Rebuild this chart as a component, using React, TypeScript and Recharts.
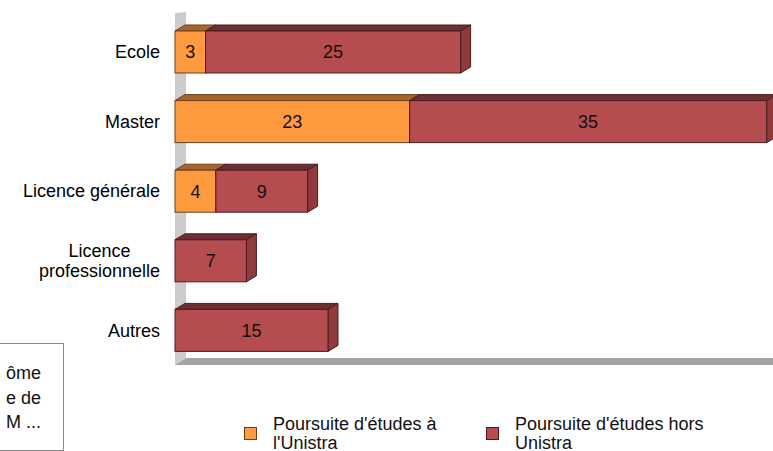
import React from 'react';
import { BarChart, Bar, XAxis, YAxis, LabelList, ReferenceArea } from 'recharts';

const categories = ['Ecole', 'Master', 'Licence générale', 'Licence professionnelle', 'Autres'];
const tickLines = [['Ecole'], ['Master'], ['Licence générale'], ['Licence', 'professionnelle'], ['Autres']];
const unistra = [3, 23, 4, 0, 0];
const horsUnistra = [25, 35, 9, 7, 15];
const seriesNames = ["Poursuite d'études à l'Unistra", "Poursuite d'études hors Unistra"];
const legendLines = [["Poursuite d'études à", "l'Unistra"], ["Poursuite d'études hors", 'Unistra']];
const boxLines = ['ôme', 'e de', 'M ...'];

const data = categories.map((name, i) => ({ name, unistra: unistra[i], hors: horsUnistra[i] }));

const FONT = '"Liberation Sans", Arial, sans-serif';
const DX = 10;
const DY = 6;

const ORANGE = { front: '#ff9a3e', top: '#a6652b', side: '#b8702f', stroke: '#6b4020' };
const RED = { front: '#b44c50', top: '#6c2f33', side: '#903a3e', stroke: '#4a1c1e' };

let ctx: CanvasRenderingContext2D | null = null;
function textWidth(s: string) {
  if (!ctx) ctx = document.createElement('canvas').getContext('2d');
  if (!ctx) return s.length * 9;
  ctx.font = `18px ${FONT}`;
  return ctx.measureText(s).width;
}

function makeBox(c: typeof ORANGE) {
  return (props: any) => {
    const { x, y, width, height } = props;
    if (!width || width <= 0) return null;
    return (
      <g stroke={c.stroke} strokeWidth={1}>
        <polygon
          points={`${x},${y} ${x + DX},${y - DY} ${x + width + DX},${y - DY} ${x + width},${y}`}
          fill={c.top}
        />
        <polygon
          points={`${x + width},${y} ${x + width + DX},${y - DY} ${x + width + DX},${y + height - DY} ${x + width},${y + height}`}
          fill={c.side}
        />
        <rect x={x} y={y} width={width} height={height} fill={c.front} />
      </g>
    );
  };
}

// back wall + floor of the 3d frame
function Walls(props: any) {
  const { x, y, width, height } = props;
  const bottom = y + height;
  return (
    <g>
      <polygon
        points={`${x},${y - 4} ${x + DX + 1},${y - 5} ${x + DX + 1},${bottom - DY - 1} ${x},${bottom}`}
        fill="#cccccc"
      />
      <polygon
        points={`${x},${bottom} ${x + DX + 1},${bottom - DY - 1} ${x + width + DX},${bottom - DY - 1} ${x + width},${bottom}`}
        fill="#a3a3a3"
      />
    </g>
  );
}

function CategoryTick(props: any) {
  const { x, y, index } = props;
  const lines = tickLines[index] || [props.payload.value];
  const lh = 20;
  const startY = y - ((lines.length - 1) * lh) / 2;
  if (lines.length === 1) {
    return (
      <text x={x} y={y} dy="0.35em" textAnchor="end" fontSize={18} fontFamily={FONT} fill="#000">
        {lines[0]}
      </text>
    );
  }
  const maxW = Math.max(...lines.map(textWidth));
  return (
    <text textAnchor="middle" fontSize={18} fontFamily={FONT} fill="#000">
      {lines.map((l, i) => (
        <tspan key={i} x={x - maxW / 2} y={startY + i * lh} dy="0.35em">
          {l}
        </tspan>
      ))}
    </text>
  );
}

function ValueLabel(props: any) {
  const { x, y, width, height, value } = props;
  if (!value) return null;
  return (
    <text
      x={x + width / 2}
      y={y + height / 2}
      dy="0.35em"
      textAnchor="middle"
      fontSize={18}
      fontFamily={FONT}
      fill="#111"
    >
      {value}
    </text>
  );
}

function LegendItem({ color, lines, left }: { color: typeof ORANGE; lines: string[]; left: number }) {
  return (
    <div style={{ position: 'absolute', left, top: 414, display: 'flex', alignItems: 'flex-start' }}>
      <div
        style={{
          width: 11,
          height: 11,
          background: color.front,
          border: `1px solid ${color.stroke}`,
          marginRight: 16,
          marginTop: 13,
        }}
      />
      <div style={{ fontSize: 18, lineHeight: '18.5px', fontFamily: FONT, color: '#111', paddingTop: 1 }}>
        {lines.map((l, i) => (
          <div key={i}>{l}</div>
        ))}
      </div>
    </div>
  );
}

export default function App() {
  return (
    <div
      style={{
        position: 'absolute',
        left: 0,
        top: 0,
        width: 773,
        height: 451,
        overflow: 'hidden',
        background: '#fff',
        fontFamily: FONT,
      }}
    >
      <BarChart
        width={800}
        height={451}
        data={data}
        layout="vertical"
        barSize={42}
        margin={{ top: 17, right: 13, left: 0, bottom: 86 }}
      >
        <XAxis type="number" domain={[0, 60]} hide />
        <YAxis
          type="category"
          dataKey="name"
          width={175}
          axisLine={false}
          tickLine={false}
          tickSize={0}
          tickMargin={15}
          tick={<CategoryTick />}
        />
        <ReferenceArea x1={0} x2={60} shape={<Walls />} ifOverflow="visible" />
        <Bar dataKey="unistra" name={seriesNames[0]} stackId="a" shape={makeBox(ORANGE)} isAnimationActive={false}>
          <LabelList dataKey="unistra" content={<ValueLabel />} />
        </Bar>
        <Bar dataKey="hors" name={seriesNames[1]} stackId="a" shape={makeBox(RED)} isAnimationActive={false}>
          <LabelList dataKey="hors" content={<ValueLabel />} />
        </Bar>
      </BarChart>

      <LegendItem color={ORANGE} lines={legendLines[0]} left={244} />
      <LegendItem color={RED} lines={legendLines[1]} left={486} />

      <div
        style={{
          position: 'absolute',
          left: -40,
          top: 343,
          width: 102,
          height: 106,
          border: '1px solid #8a8a8a',
          boxSizing: 'content-box',
        }}
      >
        <div
          style={{
            position: 'absolute',
            right: 22,
            top: 17,
            textAlign: 'right',
            fontSize: 18,
            lineHeight: '24.5px',
            color: '#111',
            whiteSpace: 'nowrap',
          }}
        >
          {boxLines.map((l, i) => (
            <div key={i}>{l}</div>
          ))}
        </div>
      </div>
    </div>
  );
}
